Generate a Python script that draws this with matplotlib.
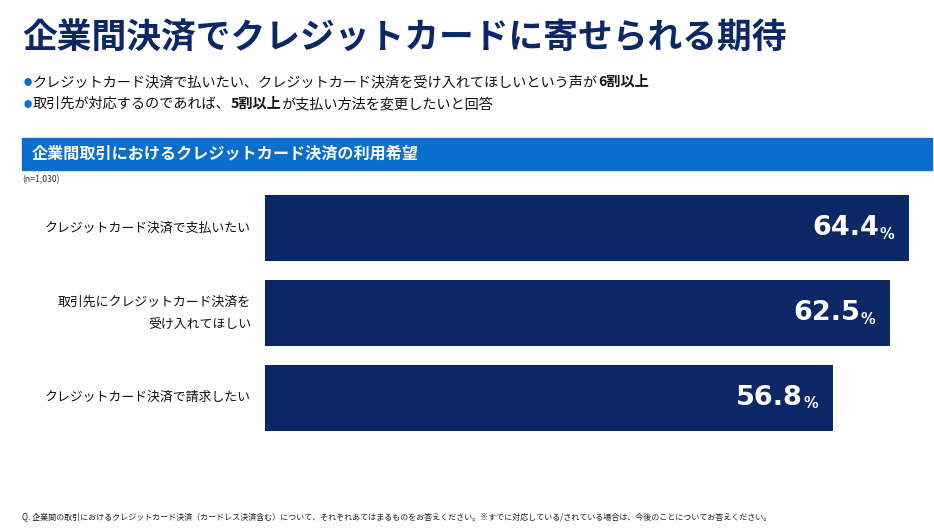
import matplotlib
matplotlib.use('Agg')
import matplotlib.pyplot as plt

plt.rcParams['font.family'] = ['Noto Sans CJK JP', 'DejaVu Sans']

##data
title = '企業間決済でクレジットカードに寄せられる期待'
bullets = [
    [('クレジットカード決済で払いたい、クレジットカード決済を受け入れてほしいという声が', 'normal'), ('6割以上', 'bold')],
    [('取引先が対応するのであれば、', 'normal'), ('5割以上', 'bold'), ('が支払い方法を変更したいと回答', 'normal')],
]
banner = '企業間取引におけるクレジットカード決済の利用希望'
n_note = '(n=1,030)'
categories = ['クレジットカード決済で支払いたい', '取引先にクレジットカード決済を\n受け入れてほしい', 'クレジットカード決済で請求したい']
values = [64.4, 62.5, 56.8]
footnote = 'Q. 企業間の取引におけるクレジットカード決済（カードレス決済含む）について、それぞれあてはまるものをお答えください。※すでに対応している/されている場合は、今後のことについてお答えください。'

navy = '#0b2766'
blue = '#0a6fcc'

W, H = 934, 529
fig = plt.figure(figsize=(W / 100, H / 100), dpi=100)

def fx(px):
    return px / W

def fy(py):
    return 1 - py / H

fig.text(fx(22), fy(38), title, fontsize=25, fontweight='bold', color=navy, va='center', ha='left')

##bullets (drawn piece by piece so bold parts line up)
fig.canvas.draw()
renderer = fig.canvas.get_renderer()
for i, parts in enumerate(bullets):
    y = fy(82 + i * 22)
    fig.text(fx(24), y, '●', fontsize=6, color=blue, va='center', ha='left')
    x = fx(33)
    for s, w in parts:
        t = fig.text(x, y, s, fontsize=10.2, fontweight=w, color='#111111', va='center', ha='left')
        bb = t.get_window_extent(renderer)
        x += bb.width / W

##banner
fig.patches.append(plt.Rectangle((fx(22), fy(170)), fx(932) - fx(22), fy(138) - fy(170),
                                 transform=fig.transFigure, color=blue, zorder=0))
fig.text(fx(32), fy(154), banner, fontsize=11.6, fontweight='bold', color='white', va='center', ha='left')
fig.text(fx(22), fy(180), n_note, fontsize=6.3, color='#333333', va='center', ha='left')

##bar chart
ax = fig.add_axes([fx(265), fy(440), fx(915) - fx(265), fy(186) - fy(440)])
ypos = list(range(len(values)))
ax.barh(ypos, values, height=0.78, color=navy)
ax.set_xlim(0, 65)
ax.set_ylim(len(values) - 0.5, -0.5)
ax.axis('off')

for yy, v, cat in zip(ypos, values, categories):
    ax.annotate('%', (v, yy), xytext=(-15, -6), textcoords='offset pixels',
                ha='right', va='center', fontsize=10.5, fontweight='bold', color='white',
                family=['DejaVu Sans'])
    ax.annotate('%.1f' % v, (v, yy), xytext=(-30, 0), textcoords='offset pixels',
                ha='right', va='center', fontsize=19.5, fontweight='bold', color='white',
                family=['DejaVu Sans'])
    ax.annotate(cat, (0, yy), xytext=(-14, 0), textcoords='offset pixels',
                ha='right', va='center', fontsize=9.3, color='#111111', linespacing=1.9,
                multialignment='right')

fig.text(fx(22), fy(517), footnote, fontsize=5.8, color='#222222', va='center', ha='left')

fig.savefig('out.png', dpi=100)
